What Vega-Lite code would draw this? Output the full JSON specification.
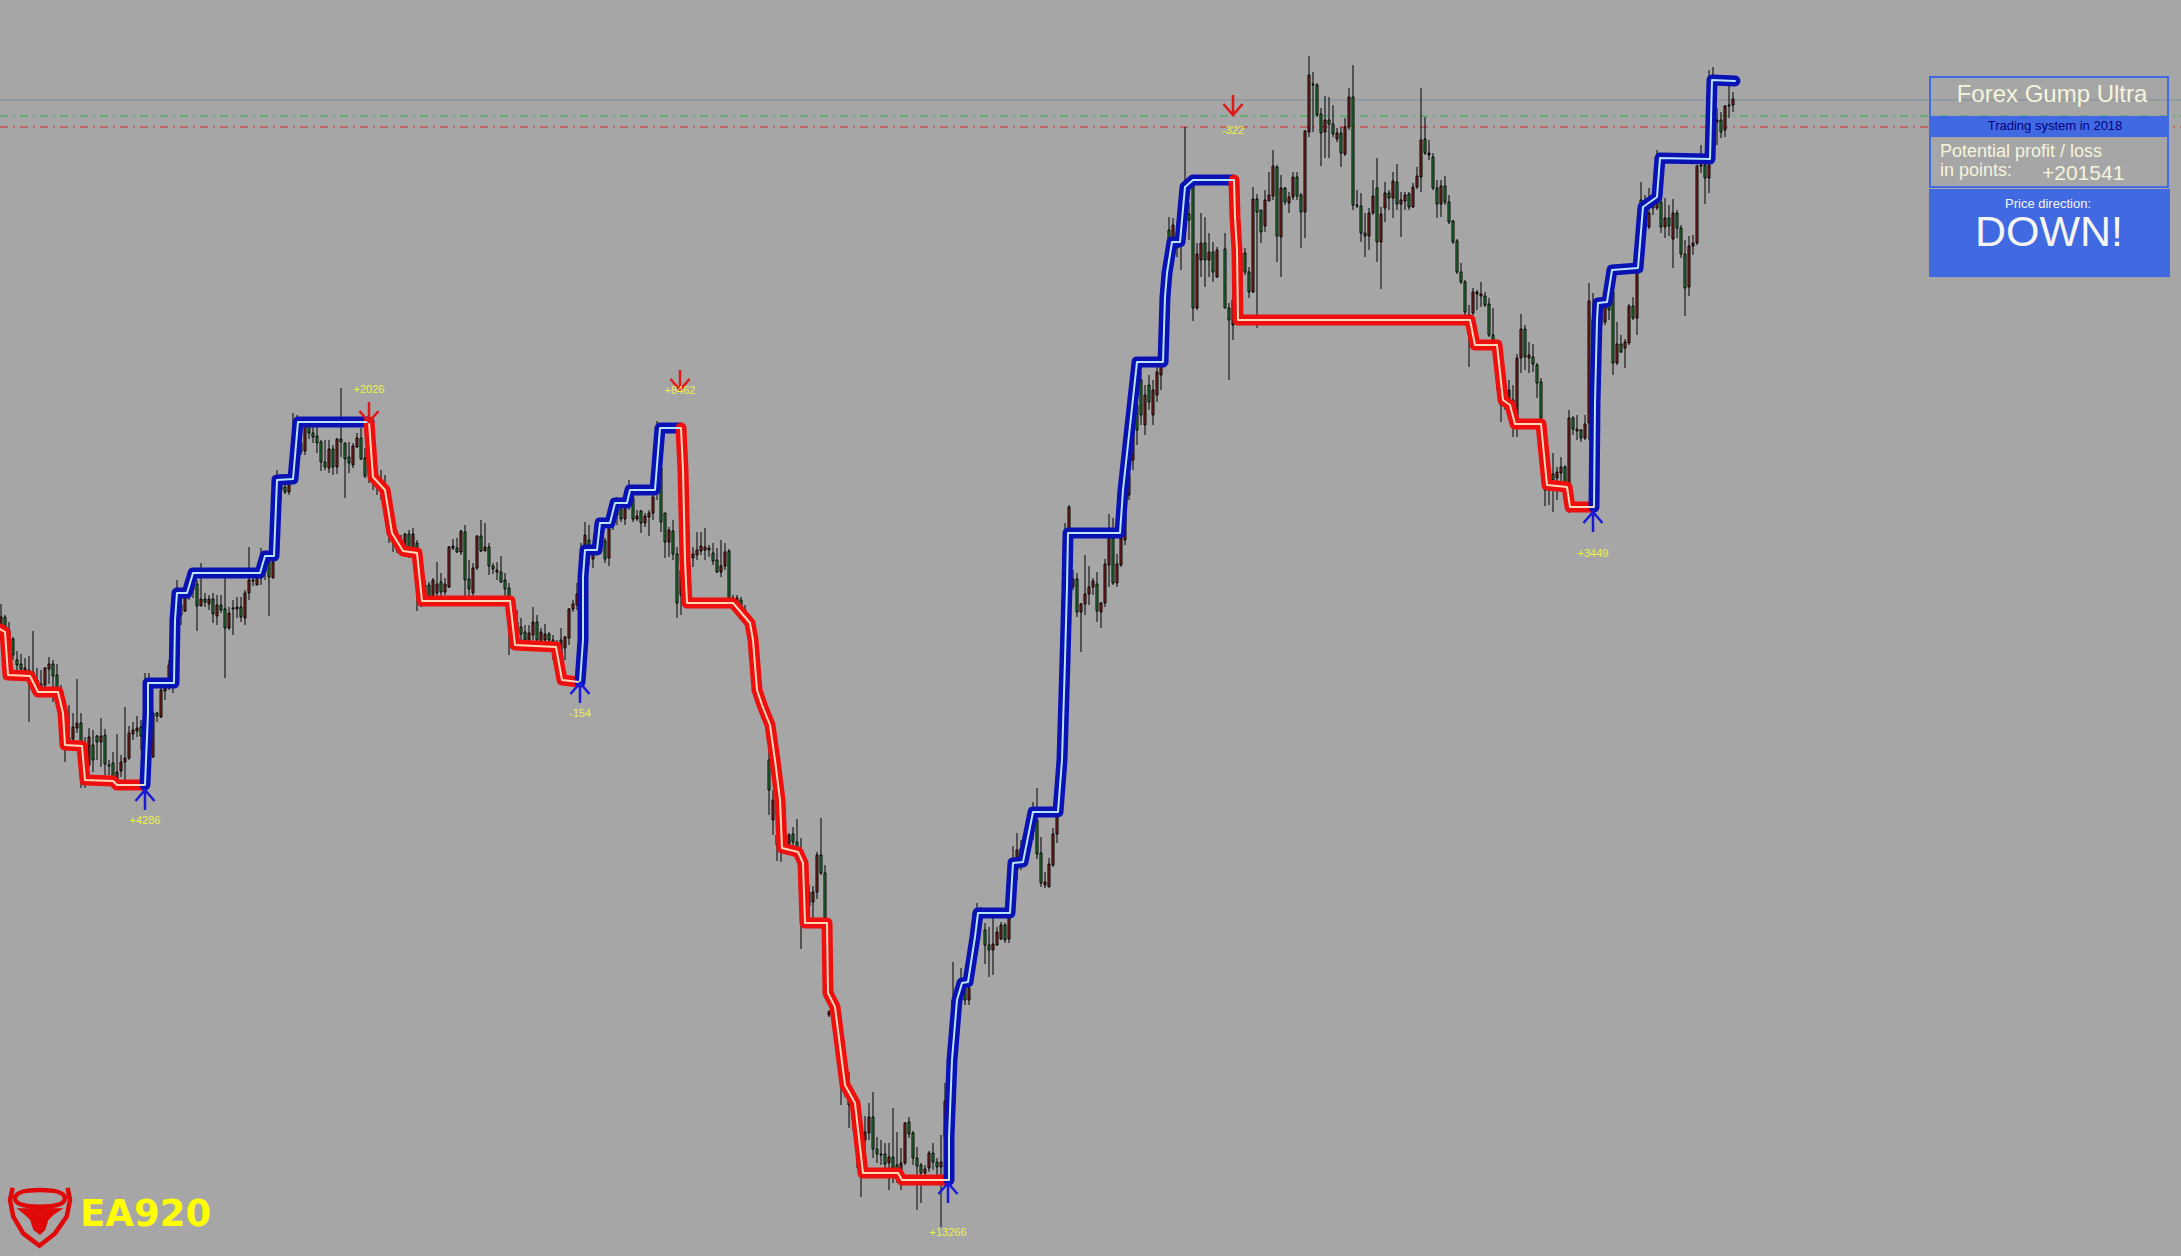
{
"$schema":"https://vega.github.io/schema/vega-lite/v6.json",
"width":2181,"height":1256,"padding":0,"autosize":{"type":"none"},
"background":"#a6a6a6",
"config":{"view":{"stroke":null}},
"datasets":{
"candles":[
{"x":1,"h":604,"l":627,"t":617,"b":625,"c":"r"},{"x":5,"h":615,"l":630,"t":617,"b":628,"c":"g"},{"x":9,"h":622,"l":640,"t":630,"b":636,"c":"g"},{"x":13,"h":637,"l":660,"t":639,"b":655,"c":"g"},{"x":17,"h":651,"l":672,"t":660,"b":665,"c":"g"},{"x":21,"h":654,"l":672,"t":664,"b":669,"c":"g"},{"x":25,"h":658,"l":676,"t":668,"b":672,"c":"r"},{"x":29,"h":656,"l":722,"t":670,"b":674,"c":"g"},{"x":33,"h":631,"l":677,"t":672,"b":676,"c":"r"},{"x":37,"h":668,"l":690,"t":680,"b":686,"c":"g"},{"x":41,"h":670,"l":697,"t":684,"b":690,"c":"g"},{"x":45,"h":667,"l":690,"t":668,"b":685,"c":"r"},{"x":49,"h":657,"l":684,"t":664,"b":669,"c":"r"},{"x":53,"h":660,"l":702,"t":664,"b":676,"c":"g"},{"x":57,"h":664,"l":692,"t":675,"b":687,"c":"g"},{"x":61,"h":685,"l":700,"t":692,"b":696,"c":"g"},{"x":65,"h":700,"l":762,"t":735,"b":745,"c":"g"},{"x":69,"h":705,"l":745,"t":738,"b":745,"c":"g"},{"x":73,"h":713,"l":743,"t":727,"b":739,"c":"r"},{"x":77,"h":679,"l":733,"t":723,"b":728,"c":"r"},{"x":81,"h":713,"l":788,"t":723,"b":742,"c":"g"},{"x":85,"h":737,"l":788,"t":750,"b":770,"c":"g"},{"x":89,"h":728,"l":767,"t":737,"b":765,"c":"r"},{"x":93,"h":730,"l":772,"t":745,"b":760,"c":"g"},{"x":97,"h":735,"l":760,"t":736,"b":742,"c":"g"},{"x":101,"h":718,"l":767,"t":736,"b":742,"c":"r"},{"x":105,"h":729,"l":775,"t":735,"b":764,"c":"g"},{"x":109,"h":760,"l":775,"t":765,"b":766,"c":"g"},{"x":113,"h":752,"l":780,"t":763,"b":777,"c":"g"},{"x":117,"h":734,"l":785,"t":772,"b":780,"c":"r"},{"x":121,"h":755,"l":777,"t":762,"b":771,"c":"r"},{"x":125,"h":707,"l":780,"t":758,"b":762,"c":"r"},{"x":129,"h":726,"l":760,"t":733,"b":758,"c":"r"},{"x":133,"h":722,"l":740,"t":730,"b":734,"c":"r"},{"x":137,"h":716,"l":737,"t":728,"b":731,"c":"r"},{"x":141,"h":720,"l":750,"t":727,"b":736,"c":"g"},{"x":145,"h":673,"l":760,"t":700,"b":740,"c":"r"},{"x":149,"h":673,"l":770,"t":690,"b":740,"c":"r"},{"x":153,"h":711,"l":758,"t":713,"b":757,"c":"r"},{"x":157,"h":712,"l":722,"t":713,"b":716,"c":"g"},{"x":161,"h":688,"l":718,"t":690,"b":717,"c":"r"},{"x":165,"h":680,"l":700,"t":687,"b":691,"c":"r"},{"x":169,"h":660,"l":690,"t":665,"b":680,"c":"r"},{"x":173,"h":640,"l":693,"t":650,"b":680,"c":"g"},{"x":177,"h":580,"l":640,"t":600,"b":625,"c":"r"},{"x":181,"h":590,"l":625,"t":605,"b":615,"c":"g"},{"x":185,"h":593,"l":612,"t":598,"b":611,"c":"r"},{"x":189,"h":585,"l":600,"t":588,"b":595,"c":"g"},{"x":193,"h":570,"l":598,"t":580,"b":590,"c":"r"},{"x":197,"h":580,"l":631,"t":584,"b":606,"c":"g"},{"x":201,"h":563,"l":606,"t":599,"b":606,"c":"r"},{"x":205,"h":593,"l":607,"t":599,"b":602,"c":"g"},{"x":209,"h":595,"l":610,"t":599,"b":604,"c":"r"},{"x":213,"h":593,"l":623,"t":599,"b":614,"c":"g"},{"x":217,"h":595,"l":625,"t":605,"b":616,"c":"r"},{"x":221,"h":595,"l":613,"t":605,"b":610,"c":"g"},{"x":225,"h":578,"l":678,"t":609,"b":628,"c":"g"},{"x":229,"h":607,"l":630,"t":613,"b":628,"c":"r"},{"x":233,"h":600,"l":635,"t":608,"b":609,"c":"g"},{"x":237,"h":597,"l":618,"t":607,"b":609,"c":"r"},{"x":241,"h":597,"l":622,"t":607,"b":617,"c":"g"},{"x":245,"h":590,"l":625,"t":593,"b":618,"c":"r"},{"x":249,"h":547,"l":600,"t":580,"b":593,"c":"r"},{"x":253,"h":577,"l":586,"t":580,"b":581,"c":"r"},{"x":257,"h":570,"l":585,"t":578,"b":585,"c":"r"},{"x":261,"h":548,"l":585,"t":565,"b":578,"c":"g"},{"x":265,"h":555,"l":580,"t":560,"b":572,"c":"g"},{"x":269,"h":560,"l":616,"t":562,"b":577,"c":"g"},{"x":273,"h":560,"l":578,"t":562,"b":578,"c":"r"},{"x":277,"h":470,"l":540,"t":490,"b":520,"c":"r"},{"x":281,"h":475,"l":500,"t":480,"b":490,"c":"g"},{"x":285,"h":485,"l":494,"t":487,"b":492,"c":"g"},{"x":289,"h":480,"l":495,"t":485,"b":492,"c":"r"},{"x":293,"h":413,"l":480,"t":440,"b":470,"c":"r"},{"x":297,"h":415,"l":470,"t":435,"b":465,"c":"g"},{"x":301,"h":420,"l":455,"t":443,"b":452,"c":"g"},{"x":305,"h":420,"l":455,"t":425,"b":451,"c":"r"},{"x":309,"h":420,"l":439,"t":426,"b":433,"c":"g"},{"x":313,"h":427,"l":443,"t":433,"b":437,"c":"g"},{"x":317,"h":427,"l":453,"t":436,"b":443,"c":"g"},{"x":321,"h":440,"l":471,"t":442,"b":462,"c":"g"},{"x":325,"h":440,"l":470,"t":462,"b":467,"c":"g"},{"x":329,"h":440,"l":473,"t":449,"b":468,"c":"r"},{"x":333,"h":445,"l":475,"t":449,"b":467,"c":"g"},{"x":337,"h":438,"l":474,"t":439,"b":467,"c":"r"},{"x":341,"h":388,"l":457,"t":439,"b":442,"c":"g"},{"x":345,"h":443,"l":498,"t":443,"b":459,"c":"g"},{"x":349,"h":442,"l":473,"t":457,"b":463,"c":"g"},{"x":353,"h":443,"l":468,"t":446,"b":465,"c":"r"},{"x":357,"h":433,"l":448,"t":438,"b":447,"c":"r"},{"x":361,"h":428,"l":460,"t":438,"b":459,"c":"g"},{"x":365,"h":448,"l":478,"t":458,"b":476,"c":"g"},{"x":369,"h":450,"l":483,"t":462,"b":472,"c":"r"},{"x":373,"h":460,"l":490,"t":465,"b":480,"c":"r"},{"x":377,"h":470,"l":495,"t":475,"b":485,"c":"g"},{"x":381,"h":470,"l":500,"t":480,"b":490,"c":"g"},{"x":385,"h":475,"l":510,"t":485,"b":500,"c":"g"},{"x":389,"h":495,"l":543,"t":505,"b":525,"c":"g"},{"x":393,"h":510,"l":552,"t":520,"b":540,"c":"r"},{"x":397,"h":530,"l":553,"t":538,"b":550,"c":"r"},{"x":401,"h":535,"l":555,"t":540,"b":550,"c":"r"},{"x":405,"h":533,"l":555,"t":534,"b":548,"c":"r"},{"x":409,"h":530,"l":558,"t":534,"b":548,"c":"g"},{"x":413,"h":528,"l":555,"t":534,"b":548,"c":"r"},{"x":417,"h":540,"l":611,"t":543,"b":560,"c":"g"},{"x":421,"h":550,"l":607,"t":560,"b":590,"c":"g"},{"x":425,"h":580,"l":605,"t":585,"b":597,"c":"g"},{"x":429,"h":582,"l":603,"t":585,"b":597,"c":"g"},{"x":433,"h":578,"l":600,"t":580,"b":597,"c":"r"},{"x":437,"h":562,"l":600,"t":584,"b":593,"c":"r"},{"x":441,"h":573,"l":597,"t":582,"b":592,"c":"g"},{"x":445,"h":578,"l":595,"t":584,"b":592,"c":"r"},{"x":449,"h":546,"l":588,"t":547,"b":587,"c":"r"},{"x":453,"h":539,"l":550,"t":546,"b":548,"c":"r"},{"x":457,"h":538,"l":553,"t":548,"b":552,"c":"g"},{"x":461,"h":530,"l":555,"t":531,"b":552,"c":"r"},{"x":465,"h":525,"l":597,"t":532,"b":580,"c":"g"},{"x":469,"h":560,"l":597,"t":579,"b":589,"c":"g"},{"x":473,"h":563,"l":597,"t":568,"b":593,"c":"r"},{"x":477,"h":535,"l":570,"t":536,"b":568,"c":"r"},{"x":481,"h":520,"l":552,"t":536,"b":551,"c":"g"},{"x":485,"h":523,"l":551,"t":547,"b":551,"c":"r"},{"x":489,"h":543,"l":575,"t":547,"b":566,"c":"g"},{"x":493,"h":563,"l":574,"t":566,"b":569,"c":"g"},{"x":497,"h":562,"l":580,"t":570,"b":572,"c":"r"},{"x":501,"h":556,"l":583,"t":572,"b":582,"c":"g"},{"x":505,"h":573,"l":598,"t":580,"b":589,"c":"g"},{"x":509,"h":583,"l":655,"t":588,"b":598,"c":"g"},{"x":513,"h":600,"l":640,"t":610,"b":625,"c":"g"},{"x":517,"h":610,"l":648,"t":622,"b":633,"c":"r"},{"x":521,"h":618,"l":640,"t":627,"b":634,"c":"g"},{"x":525,"h":625,"l":642,"t":632,"b":640,"c":"g"},{"x":529,"h":625,"l":644,"t":633,"b":640,"c":"r"},{"x":533,"h":607,"l":640,"t":622,"b":635,"c":"r"},{"x":537,"h":615,"l":645,"t":622,"b":640,"c":"g"},{"x":541,"h":628,"l":645,"t":632,"b":642,"c":"r"},{"x":545,"h":624,"l":645,"t":634,"b":640,"c":"r"},{"x":549,"h":632,"l":645,"t":634,"b":640,"c":"g"},{"x":553,"h":635,"l":660,"t":640,"b":650,"c":"g"},{"x":557,"h":640,"l":668,"t":648,"b":660,"c":"r"},{"x":561,"h":628,"l":670,"t":640,"b":655,"c":"r"},{"x":565,"h":636,"l":660,"t":637,"b":648,"c":"r"},{"x":569,"h":608,"l":645,"t":609,"b":638,"c":"r"},{"x":573,"h":600,"l":612,"t":604,"b":609,"c":"r"},{"x":577,"h":583,"l":610,"t":594,"b":605,"c":"r"},{"x":581,"h":543,"l":600,"t":560,"b":580,"c":"g"},{"x":585,"h":522,"l":565,"t":535,"b":550,"c":"r"},{"x":589,"h":525,"l":565,"t":540,"b":555,"c":"g"},{"x":593,"h":550,"l":568,"t":554,"b":559,"c":"r"},{"x":597,"h":525,"l":550,"t":530,"b":545,"c":"g"},{"x":601,"h":520,"l":548,"t":530,"b":540,"c":"r"},{"x":605,"h":538,"l":563,"t":541,"b":559,"c":"g"},{"x":609,"h":528,"l":566,"t":529,"b":558,"c":"r"},{"x":613,"h":500,"l":530,"t":510,"b":522,"c":"g"},{"x":617,"h":497,"l":525,"t":505,"b":515,"c":"r"},{"x":621,"h":498,"l":522,"t":509,"b":519,"c":"g"},{"x":625,"h":498,"l":525,"t":509,"b":519,"c":"r"},{"x":629,"h":480,"l":510,"t":490,"b":500,"c":"g"},{"x":633,"h":495,"l":522,"t":498,"b":519,"c":"g"},{"x":637,"h":510,"l":521,"t":516,"b":519,"c":"r"},{"x":641,"h":510,"l":533,"t":511,"b":523,"c":"g"},{"x":645,"h":513,"l":527,"t":516,"b":523,"c":"r"},{"x":649,"h":510,"l":536,"t":513,"b":517,"c":"r"},{"x":653,"h":495,"l":520,"t":497,"b":513,"c":"r"},{"x":657,"h":421,"l":500,"t":440,"b":480,"c":"r"},{"x":661,"h":443,"l":532,"t":468,"b":522,"c":"g"},{"x":665,"h":513,"l":558,"t":513,"b":542,"c":"g"},{"x":669,"h":527,"l":557,"t":530,"b":542,"c":"r"},{"x":673,"h":520,"l":560,"t":531,"b":554,"c":"g"},{"x":677,"h":547,"l":618,"t":554,"b":603,"c":"g"},{"x":681,"h":560,"l":615,"t":570,"b":595,"c":"r"},{"x":685,"h":555,"l":600,"t":565,"b":590,"c":"g"},{"x":689,"h":560,"l":587,"t":565,"b":580,"c":"r"},{"x":693,"h":547,"l":567,"t":554,"b":558,"c":"r"},{"x":697,"h":532,"l":560,"t":550,"b":555,"c":"r"},{"x":701,"h":532,"l":555,"t":546,"b":551,"c":"r"},{"x":705,"h":528,"l":560,"t":547,"b":550,"c":"r"},{"x":709,"h":545,"l":557,"t":548,"b":550,"c":"g"},{"x":713,"h":543,"l":565,"t":553,"b":561,"c":"g"},{"x":717,"h":548,"l":573,"t":560,"b":572,"c":"g"},{"x":721,"h":540,"l":577,"t":566,"b":572,"c":"r"},{"x":725,"h":543,"l":570,"t":552,"b":566,"c":"r"},{"x":729,"h":549,"l":600,"t":551,"b":598,"c":"g"},{"x":733,"h":595,"l":610,"t":598,"b":602,"c":"g"},{"x":737,"h":595,"l":602,"t":598,"b":601,"c":"r"},{"x":741,"h":597,"l":615,"t":600,"b":610,"c":"g"},{"x":745,"h":605,"l":625,"t":610,"b":620,"c":"g"},{"x":753,"h":640,"l":680,"t":650,"b":665,"c":"r"},{"x":757,"h":660,"l":695,"t":670,"b":685,"c":"r"},{"x":769,"h":740,"l":815,"t":760,"b":790,"c":"g"},{"x":773,"h":790,"l":835,"t":800,"b":820,"c":"r"},{"x":777,"h":825,"l":861,"t":835,"b":845,"c":"g"},{"x":781,"h":825,"l":862,"t":835,"b":845,"c":"r"},{"x":785,"h":830,"l":850,"t":838,"b":845,"c":"r"},{"x":789,"h":833,"l":852,"t":835,"b":847,"c":"r"},{"x":793,"h":827,"l":850,"t":834,"b":842,"c":"g"},{"x":797,"h":819,"l":850,"t":842,"b":848,"c":"g"},{"x":801,"h":838,"l":949,"t":860,"b":880,"c":"g"},{"x":805,"h":870,"l":915,"t":880,"b":900,"c":"r"},{"x":809,"h":885,"l":908,"t":892,"b":906,"c":"r"},{"x":813,"h":886,"l":918,"t":892,"b":902,"c":"r"},{"x":817,"h":852,"l":899,"t":855,"b":892,"c":"r"},{"x":821,"h":818,"l":875,"t":855,"b":873,"c":"g"},{"x":825,"h":865,"l":920,"t":873,"b":918,"c":"g"},{"x":829,"h":1010,"l":1017,"t":1012,"b":1015,"c":"r"},{"x":841,"h":1015,"l":1105,"t":1040,"b":1075,"c":"r"},{"x":845,"h":1070,"l":1097,"t":1080,"b":1090,"c":"r"},{"x":849,"h":1072,"l":1128,"t":1085,"b":1105,"c":"g"},{"x":853,"h":1100,"l":1130,"t":1108,"b":1120,"c":"r"},{"x":857,"h":1115,"l":1168,"t":1125,"b":1150,"c":"g"},{"x":861,"h":1130,"l":1197,"t":1160,"b":1175,"c":"r"},{"x":865,"h":1116,"l":1150,"t":1132,"b":1140,"c":"r"},{"x":869,"h":1103,"l":1140,"t":1117,"b":1133,"c":"r"},{"x":873,"h":1092,"l":1158,"t":1117,"b":1149,"c":"g"},{"x":877,"h":1137,"l":1163,"t":1149,"b":1154,"c":"g"},{"x":881,"h":1140,"l":1165,"t":1154,"b":1155,"c":"g"},{"x":885,"h":1143,"l":1170,"t":1154,"b":1164,"c":"g"},{"x":889,"h":1143,"l":1190,"t":1157,"b":1163,"c":"r"},{"x":893,"h":1108,"l":1183,"t":1157,"b":1168,"c":"g"},{"x":897,"h":1132,"l":1183,"t":1165,"b":1175,"c":"g"},{"x":901,"h":1148,"l":1190,"t":1163,"b":1170,"c":"r"},{"x":905,"h":1122,"l":1165,"t":1123,"b":1163,"c":"r"},{"x":909,"h":1117,"l":1138,"t":1122,"b":1134,"c":"g"},{"x":913,"h":1131,"l":1165,"t":1133,"b":1158,"c":"g"},{"x":917,"h":1147,"l":1210,"t":1158,"b":1166,"c":"g"},{"x":921,"h":1163,"l":1203,"t":1165,"b":1173,"c":"g"},{"x":925,"h":1165,"l":1180,"t":1169,"b":1173,"c":"r"},{"x":929,"h":1151,"l":1172,"t":1153,"b":1168,"c":"r"},{"x":933,"h":1143,"l":1170,"t":1153,"b":1162,"c":"g"},{"x":937,"h":1158,"l":1175,"t":1162,"b":1167,"c":"g"},{"x":941,"h":1135,"l":1227,"t":1162,"b":1167,"c":"r"},{"x":945,"h":1083,"l":1140,"t":1101,"b":1137,"c":"r"},{"x":953,"h":962,"l":1030,"t":1000,"b":1020,"c":"r"},{"x":957,"h":985,"l":1015,"t":990,"b":1005,"c":"g"},{"x":961,"h":968,"l":1000,"t":980,"b":995,"c":"r"},{"x":965,"h":975,"l":1005,"t":988,"b":1000,"c":"g"},{"x":969,"h":980,"l":1005,"t":988,"b":1000,"c":"r"},{"x":973,"h":913,"l":960,"t":925,"b":945,"c":"r"},{"x":977,"h":903,"l":945,"t":915,"b":935,"c":"r"},{"x":981,"h":907,"l":925,"t":910,"b":920,"c":"g"},{"x":985,"h":923,"l":964,"t":930,"b":945,"c":"g"},{"x":989,"h":927,"l":977,"t":945,"b":950,"c":"g"},{"x":993,"h":918,"l":975,"t":944,"b":950,"c":"r"},{"x":997,"h":927,"l":946,"t":932,"b":945,"c":"r"},{"x":1001,"h":922,"l":940,"t":925,"b":939,"c":"r"},{"x":1005,"h":923,"l":943,"t":925,"b":940,"c":"g"},{"x":1009,"h":916,"l":943,"t":918,"b":939,"c":"r"},{"x":1013,"h":846,"l":900,"t":865,"b":885,"c":"r"},{"x":1017,"h":833,"l":880,"t":850,"b":870,"c":"r"},{"x":1021,"h":840,"l":870,"t":848,"b":858,"c":"g"},{"x":1025,"h":830,"l":860,"t":835,"b":850,"c":"r"},{"x":1029,"h":820,"l":850,"t":828,"b":842,"c":"r"},{"x":1033,"h":802,"l":840,"t":812,"b":825,"c":"g"},{"x":1037,"h":788,"l":859,"t":820,"b":854,"c":"g"},{"x":1041,"h":837,"l":887,"t":853,"b":883,"c":"g"},{"x":1045,"h":872,"l":888,"t":882,"b":885,"c":"r"},{"x":1049,"h":858,"l":887,"t":864,"b":887,"c":"r"},{"x":1053,"h":828,"l":867,"t":834,"b":865,"c":"r"},{"x":1057,"h":810,"l":843,"t":816,"b":834,"c":"r"},{"x":1065,"h":523,"l":600,"t":540,"b":570,"c":"r"},{"x":1069,"h":505,"l":620,"t":507,"b":530,"c":"r"},{"x":1073,"h":570,"l":590,"t":579,"b":587,"c":"r"},{"x":1077,"h":573,"l":617,"t":579,"b":612,"c":"g"},{"x":1081,"h":603,"l":652,"t":604,"b":612,"c":"r"},{"x":1085,"h":555,"l":615,"t":594,"b":604,"c":"r"},{"x":1089,"h":566,"l":605,"t":587,"b":594,"c":"r"},{"x":1093,"h":578,"l":595,"t":581,"b":587,"c":"r"},{"x":1097,"h":572,"l":622,"t":584,"b":611,"c":"g"},{"x":1101,"h":602,"l":628,"t":603,"b":612,"c":"r"},{"x":1105,"h":559,"l":607,"t":564,"b":603,"c":"r"},{"x":1109,"h":514,"l":587,"t":538,"b":565,"c":"r"},{"x":1113,"h":518,"l":585,"t":538,"b":583,"c":"g"},{"x":1117,"h":554,"l":587,"t":564,"b":583,"c":"r"},{"x":1121,"h":530,"l":567,"t":538,"b":565,"c":"r"},{"x":1125,"h":505,"l":545,"t":515,"b":540,"c":"r"},{"x":1129,"h":470,"l":500,"t":475,"b":495,"c":"r"},{"x":1133,"h":420,"l":470,"t":430,"b":460,"c":"r"},{"x":1137,"h":395,"l":445,"t":405,"b":430,"c":"g"},{"x":1141,"h":372,"l":425,"t":380,"b":415,"c":"g"},{"x":1145,"h":385,"l":435,"t":395,"b":425,"c":"r"},{"x":1149,"h":375,"l":410,"t":385,"b":402,"c":"g"},{"x":1153,"h":380,"l":425,"t":390,"b":415,"c":"r"},{"x":1157,"h":365,"l":402,"t":372,"b":395,"c":"r"},{"x":1161,"h":340,"l":390,"t":345,"b":375,"c":"r"},{"x":1165,"h":275,"l":340,"t":285,"b":325,"c":"r"},{"x":1169,"h":217,"l":263,"t":230,"b":255,"c":"g"},{"x":1173,"h":218,"l":253,"t":225,"b":245,"c":"r"},{"x":1177,"h":225,"l":257,"t":235,"b":248,"c":"g"},{"x":1181,"h":215,"l":270,"t":225,"b":245,"c":"r"},{"x":1185,"h":127,"l":240,"t":185,"b":205,"c":"r"},{"x":1189,"h":203,"l":240,"t":214,"b":220,"c":"g"},{"x":1193,"h":180,"l":321,"t":183,"b":308,"c":"g"},{"x":1197,"h":243,"l":310,"t":254,"b":308,"c":"r"},{"x":1201,"h":213,"l":277,"t":243,"b":260,"c":"r"},{"x":1205,"h":217,"l":287,"t":243,"b":260,"c":"g"},{"x":1209,"h":233,"l":277,"t":252,"b":260,"c":"r"},{"x":1213,"h":242,"l":282,"t":252,"b":272,"c":"g"},{"x":1217,"h":247,"l":278,"t":250,"b":277,"c":"r"},{"x":1225,"h":233,"l":308,"t":249,"b":308,"c":"g"},{"x":1229,"h":303,"l":380,"t":308,"b":320,"c":"g"},{"x":1233,"h":290,"l":340,"t":300,"b":325,"c":"r"},{"x":1237,"h":245,"l":300,"t":253,"b":285,"c":"r"},{"x":1241,"h":248,"l":285,"t":253,"b":283,"c":"r"},{"x":1245,"h":248,"l":275,"t":253,"b":272,"c":"g"},{"x":1249,"h":267,"l":298,"t":272,"b":292,"c":"g"},{"x":1253,"h":187,"l":293,"t":199,"b":292,"c":"r"},{"x":1257,"h":194,"l":328,"t":199,"b":212,"c":"g"},{"x":1261,"h":210,"l":243,"t":210,"b":232,"c":"g"},{"x":1265,"h":190,"l":232,"t":200,"b":226,"c":"r"},{"x":1269,"h":172,"l":200,"t":195,"b":201,"c":"r"},{"x":1273,"h":150,"l":200,"t":166,"b":196,"c":"r"},{"x":1277,"h":165,"l":262,"t":167,"b":236,"c":"g"},{"x":1281,"h":175,"l":277,"t":188,"b":237,"c":"r"},{"x":1285,"h":187,"l":205,"t":188,"b":202,"c":"g"},{"x":1289,"h":192,"l":213,"t":197,"b":203,"c":"r"},{"x":1293,"h":172,"l":200,"t":177,"b":197,"c":"r"},{"x":1297,"h":172,"l":200,"t":177,"b":196,"c":"g"},{"x":1301,"h":193,"l":248,"t":195,"b":212,"c":"g"},{"x":1305,"h":130,"l":238,"t":131,"b":212,"c":"r"},{"x":1309,"h":56,"l":137,"t":75,"b":132,"c":"r"},{"x":1313,"h":72,"l":132,"t":84,"b":85,"c":"r"},{"x":1317,"h":83,"l":117,"t":85,"b":115,"c":"g"},{"x":1321,"h":108,"l":166,"t":114,"b":133,"c":"g"},{"x":1325,"h":96,"l":158,"t":120,"b":132,"c":"r"},{"x":1329,"h":97,"l":158,"t":120,"b":124,"c":"g"},{"x":1333,"h":105,"l":137,"t":124,"b":134,"c":"g"},{"x":1337,"h":128,"l":142,"t":133,"b":139,"c":"r"},{"x":1341,"h":127,"l":167,"t":133,"b":153,"c":"g"},{"x":1345,"h":118,"l":156,"t":127,"b":154,"c":"r"},{"x":1349,"h":88,"l":130,"t":97,"b":127,"c":"r"},{"x":1353,"h":65,"l":210,"t":97,"b":205,"c":"g"},{"x":1357,"h":190,"l":208,"t":205,"b":206,"c":"r"},{"x":1361,"h":193,"l":242,"t":206,"b":233,"c":"g"},{"x":1365,"h":213,"l":257,"t":233,"b":236,"c":"g"},{"x":1369,"h":208,"l":250,"t":213,"b":236,"c":"r"},{"x":1373,"h":180,"l":215,"t":196,"b":213,"c":"r"},{"x":1377,"h":158,"l":262,"t":188,"b":242,"c":"g"},{"x":1381,"h":207,"l":289,"t":214,"b":242,"c":"r"},{"x":1385,"h":182,"l":222,"t":193,"b":208,"c":"r"},{"x":1389,"h":190,"l":210,"t":193,"b":198,"c":"g"},{"x":1393,"h":172,"l":218,"t":181,"b":198,"c":"r"},{"x":1397,"h":164,"l":210,"t":182,"b":204,"c":"g"},{"x":1401,"h":192,"l":237,"t":200,"b":204,"c":"r"},{"x":1405,"h":192,"l":210,"t":195,"b":201,"c":"r"},{"x":1409,"h":192,"l":210,"t":194,"b":207,"c":"g"},{"x":1413,"h":183,"l":208,"t":187,"b":207,"c":"r"},{"x":1417,"h":167,"l":189,"t":176,"b":187,"c":"r"},{"x":1421,"h":88,"l":192,"t":140,"b":177,"c":"r"},{"x":1425,"h":117,"l":155,"t":139,"b":153,"c":"g"},{"x":1429,"h":140,"l":160,"t":153,"b":155,"c":"r"},{"x":1433,"h":153,"l":190,"t":157,"b":188,"c":"g"},{"x":1437,"h":180,"l":218,"t":188,"b":204,"c":"g"},{"x":1441,"h":180,"l":217,"t":186,"b":204,"c":"r"},{"x":1445,"h":176,"l":205,"t":186,"b":202,"c":"g"},{"x":1449,"h":195,"l":224,"t":202,"b":222,"c":"g"},{"x":1453,"h":220,"l":244,"t":221,"b":242,"c":"g"},{"x":1457,"h":239,"l":274,"t":241,"b":272,"c":"g"},{"x":1461,"h":263,"l":284,"t":272,"b":282,"c":"g"},{"x":1465,"h":280,"l":315,"t":282,"b":312,"c":"g"},{"x":1469,"h":305,"l":367,"t":315,"b":330,"c":"g"},{"x":1473,"h":288,"l":315,"t":292,"b":313,"c":"r"},{"x":1477,"h":290,"l":310,"t":292,"b":294,"c":"r"},{"x":1481,"h":282,"l":307,"t":294,"b":296,"c":"r"},{"x":1485,"h":292,"l":307,"t":296,"b":305,"c":"g"},{"x":1489,"h":298,"l":337,"t":304,"b":335,"c":"g"},{"x":1493,"h":308,"l":342,"t":335,"b":340,"c":"g"},{"x":1497,"h":360,"l":390,"t":365,"b":380,"c":"r"},{"x":1501,"h":370,"l":422,"t":385,"b":405,"c":"r"},{"x":1505,"h":375,"l":410,"t":385,"b":400,"c":"g"},{"x":1509,"h":380,"l":415,"t":390,"b":405,"c":"r"},{"x":1513,"h":385,"l":437,"t":400,"b":420,"c":"g"},{"x":1517,"h":354,"l":437,"t":358,"b":425,"c":"r"},{"x":1521,"h":314,"l":373,"t":329,"b":358,"c":"r"},{"x":1525,"h":325,"l":370,"t":329,"b":357,"c":"g"},{"x":1529,"h":342,"l":373,"t":355,"b":358,"c":"r"},{"x":1533,"h":344,"l":372,"t":357,"b":364,"c":"g"},{"x":1537,"h":363,"l":398,"t":365,"b":383,"c":"g"},{"x":1541,"h":378,"l":422,"t":382,"b":418,"c":"g"},{"x":1545,"h":460,"l":506,"t":465,"b":490,"c":"r"},{"x":1549,"h":465,"l":505,"t":475,"b":490,"c":"g"},{"x":1553,"h":453,"l":512,"t":474,"b":480,"c":"g"},{"x":1557,"h":467,"l":500,"t":472,"b":478,"c":"r"},{"x":1561,"h":457,"l":490,"t":467,"b":473,"c":"r"},{"x":1565,"h":465,"l":490,"t":467,"b":483,"c":"g"},{"x":1569,"h":410,"l":513,"t":418,"b":483,"c":"r"},{"x":1573,"h":416,"l":435,"t":418,"b":429,"c":"g"},{"x":1577,"h":415,"l":440,"t":429,"b":431,"c":"r"},{"x":1581,"h":429,"l":442,"t":430,"b":438,"c":"g"},{"x":1585,"h":415,"l":440,"t":424,"b":438,"c":"r"},{"x":1589,"h":283,"l":440,"t":301,"b":423,"c":"r"},{"x":1593,"h":293,"l":400,"t":320,"b":360,"c":"r"},{"x":1597,"h":310,"l":350,"t":315,"b":340,"c":"g"},{"x":1601,"h":310,"l":332,"t":315,"b":325,"c":"r"},{"x":1605,"h":300,"l":325,"t":305,"b":322,"c":"r"},{"x":1609,"h":290,"l":320,"t":295,"b":310,"c":"g"},{"x":1613,"h":292,"l":375,"t":292,"b":363,"c":"g"},{"x":1617,"h":322,"l":365,"t":344,"b":363,"c":"r"},{"x":1621,"h":335,"l":353,"t":344,"b":352,"c":"g"},{"x":1625,"h":339,"l":368,"t":342,"b":348,"c":"r"},{"x":1629,"h":304,"l":345,"t":306,"b":343,"c":"r"},{"x":1633,"h":297,"l":320,"t":306,"b":318,"c":"g"},{"x":1637,"h":272,"l":335,"t":273,"b":318,"c":"r"},{"x":1641,"h":182,"l":245,"t":200,"b":225,"c":"g"},{"x":1645,"h":195,"l":232,"t":205,"b":220,"c":"r"},{"x":1649,"h":188,"l":229,"t":213,"b":227,"c":"r"},{"x":1653,"h":195,"l":215,"t":200,"b":208,"c":"g"},{"x":1657,"h":150,"l":210,"t":202,"b":208,"c":"r"},{"x":1661,"h":165,"l":233,"t":202,"b":227,"c":"g"},{"x":1665,"h":198,"l":238,"t":218,"b":227,"c":"r"},{"x":1669,"h":205,"l":236,"t":218,"b":226,"c":"g"},{"x":1673,"h":199,"l":268,"t":213,"b":239,"c":"r"},{"x":1677,"h":210,"l":238,"t":213,"b":228,"c":"g"},{"x":1681,"h":225,"l":258,"t":228,"b":254,"c":"g"},{"x":1685,"h":240,"l":316,"t":254,"b":288,"c":"g"},{"x":1689,"h":236,"l":296,"t":246,"b":287,"c":"r"},{"x":1693,"h":235,"l":255,"t":243,"b":246,"c":"r"},{"x":1697,"h":165,"l":245,"t":166,"b":243,"c":"r"},{"x":1701,"h":145,"l":173,"t":165,"b":166,"c":"r"},{"x":1705,"h":163,"l":204,"t":165,"b":178,"c":"g"},{"x":1709,"h":70,"l":193,"t":165,"b":178,"c":"r"},{"x":1713,"h":67,"l":100,"t":75,"b":90,"c":"g"},{"x":1717,"h":108,"l":145,"t":120,"b":122,"c":"r"},{"x":1721,"h":112,"l":138,"t":120,"b":132,"c":"g"},{"x":1725,"h":105,"l":137,"t":106,"b":130,"c":"r"},{"x":1729,"h":83,"l":118,"t":105,"b":106,"c":"r"},{"x":1733,"h":92,"l":112,"t":99,"b":105,"c":"r"}
],
"trend":[
{"s":"r1","c":"r","o":1,"x":0,"y":629},{"s":"r1","c":"r","o":2,"x":5,"y":632},{"s":"r1","c":"r","o":3,"x":8,"y":675},{"s":"r1","c":"r","o":4,"x":30,"y":676},{"s":"r1","c":"r","o":5,"x":38,"y":692},{"s":"r1","c":"r","o":6,"x":58,"y":692},{"s":"r1","c":"r","o":7,"x":63,"y":713},{"s":"r1","c":"r","o":8,"x":65,"y":745},{"s":"r1","c":"r","o":9,"x":82,"y":746},{"s":"r1","c":"r","o":10,"x":85,"y":780},{"s":"r1","c":"r","o":11,"x":113,"y":781},{"s":"r1","c":"r","o":12,"x":117,"y":785},{"s":"r1","c":"r","o":13,"x":144,"y":785},
{"s":"b1","c":"b","o":1,"x":145,"y":785},{"s":"b1","c":"b","o":2,"x":146,"y":760},{"s":"b1","c":"b","o":3,"x":148,"y":713},{"s":"b1","c":"b","o":4,"x":148,"y":683},{"s":"b1","c":"b","o":5,"x":174,"y":683},{"s":"b1","c":"b","o":6,"x":175,"y":620},{"s":"b1","c":"b","o":7,"x":177,"y":593},{"s":"b1","c":"b","o":8,"x":187,"y":593},{"s":"b1","c":"b","o":9,"x":193,"y":573},{"s":"b1","c":"b","o":10,"x":260,"y":573},{"s":"b1","c":"b","o":11,"x":265,"y":556},{"s":"b1","c":"b","o":12,"x":274,"y":556},{"s":"b1","c":"b","o":13,"x":277,"y":480},{"s":"b1","c":"b","o":14,"x":293,"y":479},{"s":"b1","c":"b","o":15,"x":298,"y":422},{"s":"b1","c":"b","o":16,"x":369,"y":422},
{"s":"r2","c":"r","o":1,"x":369,"y":422},{"s":"r2","c":"r","o":2,"x":373,"y":477},{"s":"r2","c":"r","o":3,"x":385,"y":490},{"s":"r2","c":"r","o":4,"x":392,"y":533},{"s":"r2","c":"r","o":5,"x":403,"y":551},{"s":"r2","c":"r","o":6,"x":417,"y":553},{"s":"r2","c":"r","o":7,"x":422,"y":601},{"s":"r2","c":"r","o":8,"x":510,"y":601},{"s":"r2","c":"r","o":9,"x":515,"y":645},{"s":"r2","c":"r","o":10,"x":556,"y":647},{"s":"r2","c":"r","o":11,"x":562,"y":680},{"s":"r2","c":"r","o":12,"x":579,"y":682},
{"s":"b2","c":"b","o":1,"x":580,"y":682},{"s":"b2","c":"b","o":2,"x":583,"y":640},{"s":"b2","c":"b","o":3,"x":583,"y":577},{"s":"b2","c":"b","o":4,"x":585,"y":550},{"s":"b2","c":"b","o":5,"x":597,"y":550},{"s":"b2","c":"b","o":6,"x":600,"y":523},{"s":"b2","c":"b","o":7,"x":610,"y":523},{"s":"b2","c":"b","o":8,"x":615,"y":503},{"s":"b2","c":"b","o":9,"x":627,"y":503},{"s":"b2","c":"b","o":10,"x":630,"y":490},{"s":"b2","c":"b","o":11,"x":655,"y":490},{"s":"b2","c":"b","o":12,"x":660,"y":428},{"s":"b2","c":"b","o":13,"x":680,"y":428},
{"s":"r3","c":"r","o":1,"x":681,"y":428},{"s":"r3","c":"r","o":2,"x":683,"y":470},{"s":"r3","c":"r","o":3,"x":685,"y":560},{"s":"r3","c":"r","o":4,"x":687,"y":603},{"s":"r3","c":"r","o":5,"x":733,"y":603},{"s":"r3","c":"r","o":6,"x":750,"y":623},{"s":"r3","c":"r","o":7,"x":753,"y":640},{"s":"r3","c":"r","o":8,"x":757,"y":690},{"s":"r3","c":"r","o":9,"x":762,"y":705},{"s":"r3","c":"r","o":10,"x":770,"y":725},{"s":"r3","c":"r","o":11,"x":775,"y":760},{"s":"r3","c":"r","o":12,"x":780,"y":800},{"s":"r3","c":"r","o":13,"x":782,"y":848},{"s":"r3","c":"r","o":14,"x":798,"y":852},{"s":"r3","c":"r","o":15,"x":803,"y":863},{"s":"r3","c":"r","o":16,"x":805,"y":923},{"s":"r3","c":"r","o":17,"x":827,"y":923},{"s":"r3","c":"r","o":18,"x":828,"y":993},{"s":"r3","c":"r","o":19,"x":835,"y":1007},{"s":"r3","c":"r","o":20,"x":845,"y":1085},{"s":"r3","c":"r","o":21,"x":855,"y":1103},{"s":"r3","c":"r","o":22,"x":863,"y":1173},{"s":"r3","c":"r","o":23,"x":898,"y":1173},{"s":"r3","c":"r","o":24,"x":902,"y":1180},{"s":"r3","c":"r","o":25,"x":948,"y":1180},
{"s":"b3","c":"b","o":1,"x":949,"y":1180},{"s":"b3","c":"b","o":2,"x":949,"y":1137},{"s":"b3","c":"b","o":3,"x":952,"y":1060},{"s":"b3","c":"b","o":4,"x":957,"y":1000},{"s":"b3","c":"b","o":5,"x":962,"y":983},{"s":"b3","c":"b","o":6,"x":968,"y":982},{"s":"b3","c":"b","o":7,"x":975,"y":937},{"s":"b3","c":"b","o":8,"x":978,"y":913},{"s":"b3","c":"b","o":9,"x":1010,"y":913},{"s":"b3","c":"b","o":10,"x":1013,"y":863},{"s":"b3","c":"b","o":11,"x":1023,"y":862},{"s":"b3","c":"b","o":12,"x":1033,"y":812},{"s":"b3","c":"b","o":13,"x":1058,"y":812},{"s":"b3","c":"b","o":14,"x":1062,"y":760},{"s":"b3","c":"b","o":15,"x":1065,"y":660},{"s":"b3","c":"b","o":16,"x":1067,"y":587},{"s":"b3","c":"b","o":17,"x":1068,"y":533},{"s":"b3","c":"b","o":18,"x":1120,"y":533},{"s":"b3","c":"b","o":19,"x":1123,"y":490},{"s":"b3","c":"b","o":20,"x":1137,"y":362},{"s":"b3","c":"b","o":21,"x":1163,"y":362},{"s":"b3","c":"b","o":22,"x":1165,"y":297},{"s":"b3","c":"b","o":23,"x":1167,"y":273},{"s":"b3","c":"b","o":24,"x":1172,"y":242},{"s":"b3","c":"b","o":25,"x":1180,"y":242},{"s":"b3","c":"b","o":26,"x":1185,"y":187},{"s":"b3","c":"b","o":27,"x":1193,"y":180},{"s":"b3","c":"b","o":28,"x":1233,"y":180},
{"s":"r4","c":"r","o":1,"x":1234,"y":180},{"s":"r4","c":"r","o":2,"x":1235,"y":217},{"s":"r4","c":"r","o":3,"x":1237,"y":250},{"s":"r4","c":"r","o":4,"x":1238,"y":320},{"s":"r4","c":"r","o":5,"x":1470,"y":320},{"s":"r4","c":"r","o":6,"x":1475,"y":345},{"s":"r4","c":"r","o":7,"x":1497,"y":345},{"s":"r4","c":"r","o":8,"x":1503,"y":400},{"s":"r4","c":"r","o":9,"x":1510,"y":405},{"s":"r4","c":"r","o":10,"x":1515,"y":424},{"s":"r4","c":"r","o":11,"x":1541,"y":424},{"s":"r4","c":"r","o":12,"x":1547,"y":485},{"s":"r4","c":"r","o":13,"x":1567,"y":487},{"s":"r4","c":"r","o":14,"x":1570,"y":507},{"s":"r4","c":"r","o":15,"x":1593,"y":507},
{"s":"b4","c":"b","o":1,"x":1594,"y":507},{"s":"b4","c":"b","o":2,"x":1595,"y":403},{"s":"b4","c":"b","o":3,"x":1597,"y":320},{"s":"b4","c":"b","o":4,"x":1598,"y":303},{"s":"b4","c":"b","o":5,"x":1607,"y":302},{"s":"b4","c":"b","o":6,"x":1612,"y":270},{"s":"b4","c":"b","o":7,"x":1638,"y":268},{"s":"b4","c":"b","o":8,"x":1643,"y":207},{"s":"b4","c":"b","o":9,"x":1657,"y":197},{"s":"b4","c":"b","o":10,"x":1660,"y":158},{"s":"b4","c":"b","o":11,"x":1710,"y":159},{"s":"b4","c":"b","o":12,"x":1712,"y":80},{"s":"b4","c":"b","o":13,"x":1735,"y":81}
],
"signals":[
{"x":145,"y":800,"ly":821,"dir":"up","label":"+4286"},
{"x":369,"y":412,"ly":390,"dir":"down","label":"+2026"},
{"x":580,"y":693,"ly":714,"dir":"up","label":"-154"},
{"x":680,"y":380,"ly":391,"dir":"down","label":"+8462"},
{"x":1233,"y":105,"ly":131,"dir":"down","label":"-322"},
{"x":948,"y":1193,"ly":1233,"dir":"up","label":"+13266"},
{"x":1593,"y":522,"ly":554,"dir":"up","label":"+3449"}
]
},
"data":{"values":[]},
"encoding":{
"x":{"field":"x","type":"quantitative","scale":{"domain":[0,2181],"nice":false,"zero":false,"padding":0},"axis":null},
"y":{"field":"y","type":"quantitative","scale":{"domain":[1256,0],"nice":false,"zero":false,"padding":0},"axis":null}
},
"resolve":{"scale":{"color":"independent"}},
"layer":[
{"data":{"values":[{"x":0,"x2":2181,"y":100}]},"mark":{"type":"rule","color":"#7f8c99","strokeWidth":1},"encoding":{"x2":{"field":"x2"}}},
{"data":{"values":[{"x":0,"x2":2181,"y":116}]},"mark":{"type":"rule","color":"#28b048","strokeWidth":1,"strokeDash":[8,5,2,5]},"encoding":{"x2":{"field":"x2"}}},
{"data":{"values":[{"x":0,"x2":2181,"y":127}]},"mark":{"type":"rule","color":"#d82a2a","strokeWidth":1,"strokeDash":[8,5,2,5]},"encoding":{"x2":{"field":"x2"}}},
{"data":{"name":"candles"},"mark":{"type":"rule","color":"#000000","strokeWidth":1},"encoding":{"y":{"field":"h","type":"quantitative"},"y2":{"field":"l"}}},
{"data":{"name":"candles"},"mark":{"type":"bar","size":2,"stroke":"#000000","strokeWidth":1},"encoding":{"y":{"field":"t","type":"quantitative"},"y2":{"field":"b"},"color":{"field":"c","type":"nominal","scale":{"domain":["r","g"],"range":["#a32a22","#2c9a3c"]},"legend":null}}},
{"data":{"name":"trend"},"mark":{"type":"line","strokeWidth":11,"strokeCap":"round","strokeJoin":"round"},"encoding":{"detail":{"field":"s"},"order":{"field":"o","type":"quantitative"},"color":{"field":"c","type":"nominal","scale":{"domain":["r","b"],"range":["#ee0f0f","#0a12b4"]},"legend":null}}},
{"data":{"name":"trend"},"mark":{"type":"line","strokeWidth":2,"strokeCap":"round","strokeJoin":"round"},"encoding":{"detail":{"field":"s"},"order":{"field":"o","type":"quantitative"},"color":{"field":"c","type":"nominal","scale":{"domain":["r","b"],"range":["#ffd8b8","#b8e4ff"]},"legend":null}}},
{"data":{"name":"signals"},"transform":[{"filter":"datum.dir==='up'"}],"mark":{"type":"point","filled":false,"size":400,"color":"#1a1ad8","strokeWidth":2.5,"opacity":1,"shape":"M0,-1 L0,1 M-0.95,0.1 L0,-1 L0.95,0.1"}},
{"data":{"name":"signals"},"transform":[{"filter":"datum.dir==='down'"}],"mark":{"type":"point","filled":false,"size":400,"color":"#e01818","strokeWidth":2.5,"opacity":1,"shape":"M0,1 L0,-1 M-0.95,-0.1 L0,1 L0.95,-0.1"}},
{"data":{"name":"signals"},"mark":{"type":"text","font":"Liberation Sans","fontSize":11,"color":"#f0f04a","align":"center","baseline":"middle"},"encoding":{"y":{"field":"ly","type":"quantitative"},"text":{"field":"label"}}},

{"data":{"values":[{"x":1930,"x2":2168,"y":77,"y2":117},{"x":1930,"x2":2168,"y":136,"y2":187}]},"mark":{"type":"rect","fillOpacity":0,"stroke":"#4169e1","strokeWidth":2},"encoding":{"x2":{"field":"x2"},"y2":{"field":"y2"}}},
{"data":{"values":[{"x":1929,"x2":2169,"y":117,"y2":136},{"x":1929,"x2":2170,"y":189,"y2":277}]},"mark":{"type":"rect","fill":"#4169e1"},"encoding":{"x2":{"field":"x2"},"y2":{"field":"y2"}}},
{"data":{"values":[{"x":2052,"y":95,"t":"Forex Gump Ultra"}]},"mark":{"type":"text","font":"Liberation Sans","fontSize":24,"color":"#f5f5dc","align":"center","baseline":"middle"},"encoding":{"text":{"field":"t"}}},
{"data":{"values":[{"x":2055,"y":126,"t":"Trading system in 2018"}]},"mark":{"type":"text","font":"Liberation Sans","fontSize":13,"color":"#000080","align":"center","baseline":"middle"},"encoding":{"text":{"field":"t"}}},
{"data":{"values":[{"x":1940,"y":152,"t":"Potential profit / loss"},{"x":1940,"y":171,"t":"in points:"}]},"mark":{"type":"text","font":"Liberation Sans","fontSize":18,"color":"#f5f5dc","align":"left","baseline":"middle"},"encoding":{"text":{"field":"t"}}},
{"data":{"values":[{"x":2042,"y":174,"t":"+201541"}]},"mark":{"type":"text","font":"Liberation Sans","fontSize":21,"color":"#f5f5dc","align":"left","baseline":"middle"},"encoding":{"text":{"field":"t"}}},
{"data":{"values":[{"x":2048,"y":204,"t":"Price direction:"}]},"mark":{"type":"text","font":"Liberation Sans","fontSize":13,"color":"#f5f5f5","align":"center","baseline":"middle"},"encoding":{"text":{"field":"t"}}},
{"data":{"values":[{"x":2049,"y":233,"t":"DOWN!"}]},"mark":{"type":"text","font":"Liberation Sans","fontSize":43,"color":"#f5f5f5","align":"center","baseline":"middle"},"encoding":{"text":{"field":"t"}}},

{"data":{"values":[{"x":40,"y":1216}]},"mark":{"type":"point","filled":false,"size":3600,"color":"#e00808","strokeWidth":4.5,"opacity":1,"shape":"M-0.91,-0.94 L-1,-0.53 L-0.89,0.02 L-0.56,0.58 L-0.02,0.99 L0.5,0.58 L0.89,0.02 L1,-0.53 L0.92,-0.94 M-0.83,-0.59 Q-0.83,-0.87 0,-0.87 Q0.83,-0.87 0.83,-0.59 Q0.83,-0.31 0,-0.31 Q-0.83,-0.31 -0.83,-0.59 Z"}},
{"data":{"values":[{"x":40,"y":1216}]},"mark":{"type":"point","filled":true,"size":3600,"color":"#e00808","opacity":1,"shape":"M-0.78,-0.26 L0.78,-0.26 L0.45,-0.03 L0.28,0.13 L0.17,0.47 L0,0.63 L-0.22,0.47 L-0.33,0.13 L-0.5,-0.03 Z"}},
{"data":{"values":[{"x":80,"y":1215,"t":"EA920"}]},"mark":{"type":"text","font":"DejaVu Sans","fontWeight":"bold","fontSize":37,"color":"#ffff00","align":"left","baseline":"middle"},"encoding":{"text":{"field":"t"}}}
]
}
